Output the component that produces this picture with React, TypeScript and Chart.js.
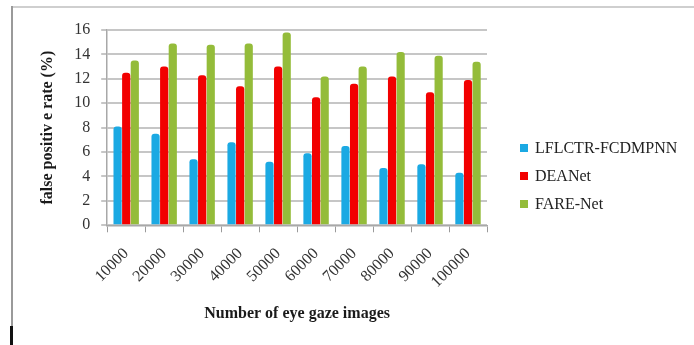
import React, { useEffect, useRef } from "react";
import { Chart, registerables } from "chart.js";

Chart.register(...registerables);

const categories = ["10000", "20000", "30000", "40000", "50000", "60000", "70000", "80000", "90000", "100000"];
const lflctrValues = [8.1, 7.5, 5.4, 6.8, 5.2, 5.9, 6.5, 4.7, 5.0, 4.3];
const deanetValues = [12.5, 13.0, 12.3, 11.4, 13.0, 10.5, 11.6, 12.2, 10.9, 11.9];
const fareNetValues = [13.5, 14.9, 14.8, 14.9, 15.8, 12.2, 13.0, 14.2, 13.9, 13.4];
const seriesNames = ["LFLCTR-FCDMPNN", "DEANet", "FARE-Net"];
const seriesColors = ["#1BA9E3", "#F20000", "#94BC3A"];
const yTicks = [0, 2, 4, 6, 8, 10, 12, 14, 16];

const SERIF = "'Liberation Serif', 'Times New Roman', serif";

export default function App() {
  const canvasRef = useRef<HTMLCanvasElement | null>(null);

  useEffect(() => {
    if (!canvasRef.current) return;
    const seriesData = [lflctrValues, deanetValues, fareNetValues];
    const chart = new Chart(canvasRef.current, {
      type: "bar",
      data: {
        labels: categories,
        datasets: seriesNames.map((name, i) => ({
          label: name,
          data: seriesData[i],
          backgroundColor: seriesColors[i],
          borderRadius: { topLeft: 3, topRight: 3, bottomLeft: 0, bottomRight: 0 },
          borderSkipped: false,
        })),
      },
      options: {
        responsive: false,
        animation: false,
        layout: { padding: { left: 38, top: 30, right: 207, bottom: 22 } },
        datasets: {
          bar: { categoryPercentage: 0.68, barPercentage: 0.95 },
        },
        plugins: {
          legend: { display: false },
          tooltip: { enabled: false },
        },
        scales: {
          x: {
            grid: { display: true, drawOnChartArea: false, tickLength: 7, color: "#9a9a9a" },
            border: { color: "#a8a8a8", width: 1.5 },
            ticks: {
              color: "#333",
              font: { family: SERIF, size: 16 },
              maxRotation: 45,
              minRotation: 45,
              autoSkip: false,
              padding: 12,
            },
            title: {
              display: true,
              text: "Number of eye gaze images",
              color: "#1a1a1a",
              font: { family: SERIF, size: 16, weight: "bold" },
              padding: { top: 0, bottom: 0 },
            },
          },
          y: {
            min: 0,
            max: 16,
            afterBuildTicks: (axis: any) => {
              axis.ticks = yTicks.map((v) => ({ value: v }));
            },
            grid: { color: "#c6c6c6", lineWidth: 2, tickLength: 6 },
            border: { color: "#a8a8a8", width: 1.5 },
            ticks: {
              color: "#333",
              font: { family: SERIF, size: 16 },
              autoSkip: false,
              padding: 11,
            },
            title: {
              display: true,
              text: "false positiv e rate (%)",
              color: "#1a1a1a",
              font: { family: SERIF, size: 16, weight: "bold" },
              padding: { top: 0, bottom: 6 },
            },
          },
        },
      },
    });
    return () => chart.destroy();
  }, []);

  const legendTops = [140, 168, 196];

  return (
    <div style={{ position: "fixed", left: 0, top: 0, width: 694, height: 345, background: "#fff", overflow: "hidden" }}>
      <div style={{ position: "absolute", left: 12, top: 6, width: 682, height: 2, background: "#cfcfcf" }} />
      <div style={{ position: "absolute", left: 11, top: 6, width: 2, height: 339, background: "#9a9a9a" }} />
      <div style={{ position: "absolute", left: 10, top: 326, width: 3, height: 19, background: "#111" }} />
      <canvas ref={canvasRef} width={694} height={345} style={{ position: "absolute", left: 0, top: 0 }} />
      {seriesNames.map((name, i) => (
        <div
          key={name}
          style={{
            position: "absolute",
            left: 520,
            top: legendTops[i],
            height: 16,
            display: "flex",
            alignItems: "center",
            fontFamily: SERIF,
            fontSize: 16,
            color: "#222",
            whiteSpace: "nowrap",
          }}
        >
          <span style={{ display: "inline-block", width: 8, height: 8, background: seriesColors[i], marginRight: 7 }} />
          <span>{name}</span>
        </div>
      ))}
    </div>
  );
}
